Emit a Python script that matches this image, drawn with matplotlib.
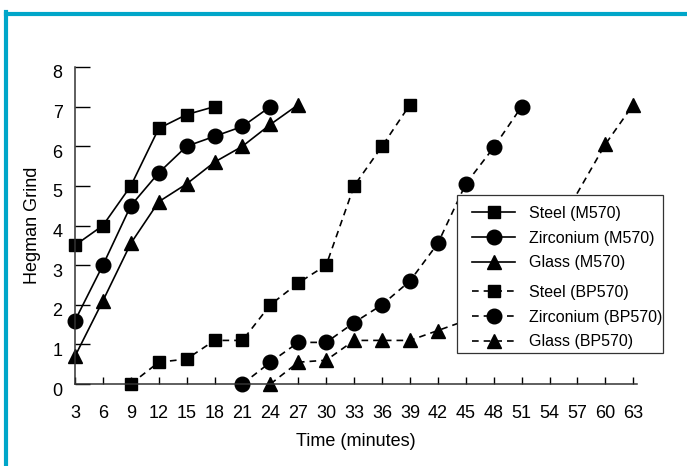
import matplotlib
matplotlib.use("Agg")
import matplotlib.pyplot as plt
from matplotlib.patches import Rectangle
from matplotlib.lines import Line2D
from matplotlib.transforms import ScaledTranslation

plt.rcParams['font.family'] = ['Liberation Sans', 'DejaVu Sans']

# Hegman grind vs time
t_steel_m = [3, 6, 9, 12, 15, 18]
g_steel_m = [3.5, 4.0, 5.0, 6.45, 6.8, 7.0]

t_zirc_m = [3, 6, 9, 12, 15, 18, 21, 24]
g_zirc_m = [1.6, 3.0, 4.5, 5.33, 6.0, 6.25, 6.5, 7.0]

t_glass_m = [3, 6, 9, 12, 15, 18, 21, 24, 27]
g_glass_m = [0.7, 2.1, 3.55, 4.6, 5.05, 5.6, 6.0, 6.55, 7.05]

t_steel_bp = [9, 12, 15, 18, 21, 24, 27, 30, 33, 36, 39]
g_steel_bp = [0.0, 0.55, 0.63, 1.1, 1.1, 2.0, 2.55, 3.0, 5.0, 6.0, 7.05]

t_zirc_bp = [21, 24, 27, 30, 33, 36, 39, 42, 45, 48, 51]
g_zirc_bp = [0.0, 0.55, 1.05, 1.05, 1.55, 2.0, 2.6, 3.55, 5.05, 5.97, 7.0]

# points between 45 and 54 sit behind the legend in the original
t_glass_bp = [24, 27, 30, 33, 36, 39, 42, 45, 48, 51, 54, 60, 63]
g_glass_bp = [0.0, 0.55, 0.6, 1.1, 1.1, 1.1, 1.35, 1.6, 2.0, 2.6, 3.6, 6.05, 7.05]

x_ticks = list(range(3, 64, 3))
y_ticks = list(range(0, 9))

fig = plt.figure(figsize=(6.87, 4.66), dpi=100)
ax = fig.add_axes([75 / 687, 1 - 384 / 466, 562 / 687, 317 / 466])

fs = 13
lw = 1.2
dash = (0, (4, 3))
sq = dict(marker='s', markersize=8.5)
ci = dict(marker='o', markersize=10.5)
tr = dict(marker='^', markersize=10.5)

l1, = ax.plot(t_steel_m, g_steel_m, color='black', lw=lw, **sq, label='Steel (M570)')
l2, = ax.plot(t_zirc_m, g_zirc_m, color='black', lw=lw, **ci, label='Zirconium (M570)')
l3, = ax.plot(t_glass_m, g_glass_m, color='black', lw=lw, **tr, label='Glass (M570)')
l4, = ax.plot(t_steel_bp, g_steel_bp, color='black', lw=lw, ls=dash, **sq, label='Steel (BP570)')
l5, = ax.plot(t_zirc_bp, g_zirc_bp, color='black', lw=lw, ls=dash, **ci, label='Zirconium (BP570)')
l6, = ax.plot(t_glass_bp, g_glass_bp, color='black', lw=lw, ls=dash, **tr, label='Glass (BP570)')
for ln in (l1, l2, l3, l4, l5, l6):
    ln.set_clip_on(False)

ax.set_xlim(3, 63.4)
ax.set_ylim(0, 8)
ax.set_xticks(x_ticks)
ax.set_yticks(y_ticks)
ax.spines['top'].set_visible(False)
ax.spines['right'].set_visible(False)
for s in ('left', 'bottom'):
    ax.spines[s].set_linewidth(1.1)
    ax.spines[s].set_color('#333333')
ax.tick_params(axis='x', direction='in', length=5, width=1, pad=15, labelsize=fs)
ax.tick_params(axis='y', direction='in', length=11, width=1, pad=9, labelsize=fs)
for lab in ax.get_yticklabels():
    lab.set_transform(lab.get_transform() + ScaledTranslation(0, -0.05, fig.dpi_scale_trans))

ax.set_xlabel('Time (minutes)', fontsize=fs, labelpad=8)
ax.set_ylabel('Hegman Grind', fontsize=fs, labelpad=8)

# legend box with a gap between the two groups
box = Rectangle((457 / 687, 1 - 353 / 466), 206 / 687, 158 / 466,
                transform=fig.transFigure, facecolor='white',
                edgecolor='#333333', lw=0.9, zorder=3, clip_on=False)
ax.add_patch(box)
leg_kw = dict(frameon=False, fontsize=11.5, loc='upper left', borderpad=0,
              borderaxespad=0, handlelength=2.7, handletextpad=0.85,
              labelspacing=0.6, numpoints=1, bbox_transform=fig.transFigure)
leg1 = ax.legend(handles=[l1, l2, l3], bbox_to_anchor=(472 / 687, 1 - 206 / 466), **leg_kw)
leg1.set_zorder(4)
ax.add_artist(leg1)
leg2 = ax.legend(handles=[l4, l5, l6], bbox_to_anchor=(472 / 687, 1 - 285 / 466), **leg_kw)
leg2.set_zorder(4)

# cyan frame lines at top and left
fig.add_artist(Line2D([6 / 687, 1], [1 - 13.5 / 466, 1 - 13.5 / 466],
                      color='#00a6c9', lw=3, transform=fig.transFigure))
fig.add_artist(Line2D([6 / 687, 6 / 687], [0, 1 - 12 / 466],
                      color='#00a6c9', lw=3, transform=fig.transFigure))

fig.savefig('out.png', dpi=100)
